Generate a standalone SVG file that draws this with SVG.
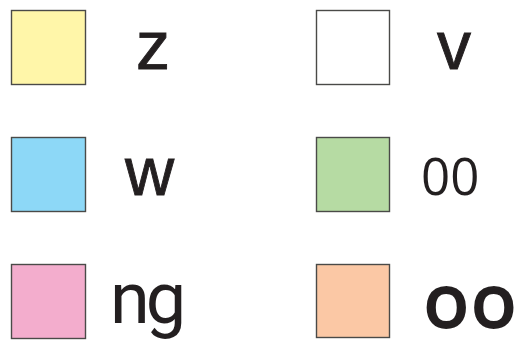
<svg xmlns="http://www.w3.org/2000/svg" width="525" height="349" viewBox="0 0 525 349">
<style>
.box{stroke:#4a4a48;stroke-width:1.4}
.t{font-family:"Open Sans","DejaVu Sans",sans-serif;fill:#231f20;stroke:#231f20;stroke-width:0.9}
.a{font-family:"Liberation Sans",Arial,sans-serif;font-size:68px;fill:#231f20;stroke:#231f20;stroke-width:0.9}
</style>
<rect width="525" height="349" fill="#ffffff"/>
<g id="node-z"><rect class="box" x="11.5" y="10.5" width="74" height="74" fill="#fff6a9"/><text class="a" x="136" y="69">z</text></g>
<g id="node-v"><rect class="box" x="316.5" y="10.5" width="73" height="74" fill="#ffffff"/><text class="a" x="437" y="69">v</text></g>
<g id="node-w"><rect class="box" x="11.5" y="137.5" width="74" height="74" fill="#8dd8f7"/><text class="a" x="125" y="195">w</text></g>
<g id="node-00"><rect class="box" x="316.5" y="137.5" width="73" height="74" fill="#b6dba3"/><text x="421" y="195" font-family="'Open Sans','DejaVu Sans',sans-serif" fill="#231f20" font-size="51">00</text></g>
<g id="node-ng"><rect class="box" x="11.5" y="264.5" width="74" height="74" fill="#f3adcd"/><text x="110" y="323" font-family="Roboto,'DejaVu Sans',sans-serif" fill="#231f20" font-size="72" letter-spacing="-4">ng</text></g>
<g id="node-oo"><rect class="box" x="316.5" y="264.5" width="73" height="73" fill="#fbc8a5"/><text class="t" x="424" y="327" font-size="74" letter-spacing="3" style="stroke-width:3">oo</text></g>
<g id="connectors"></g>
</svg>
